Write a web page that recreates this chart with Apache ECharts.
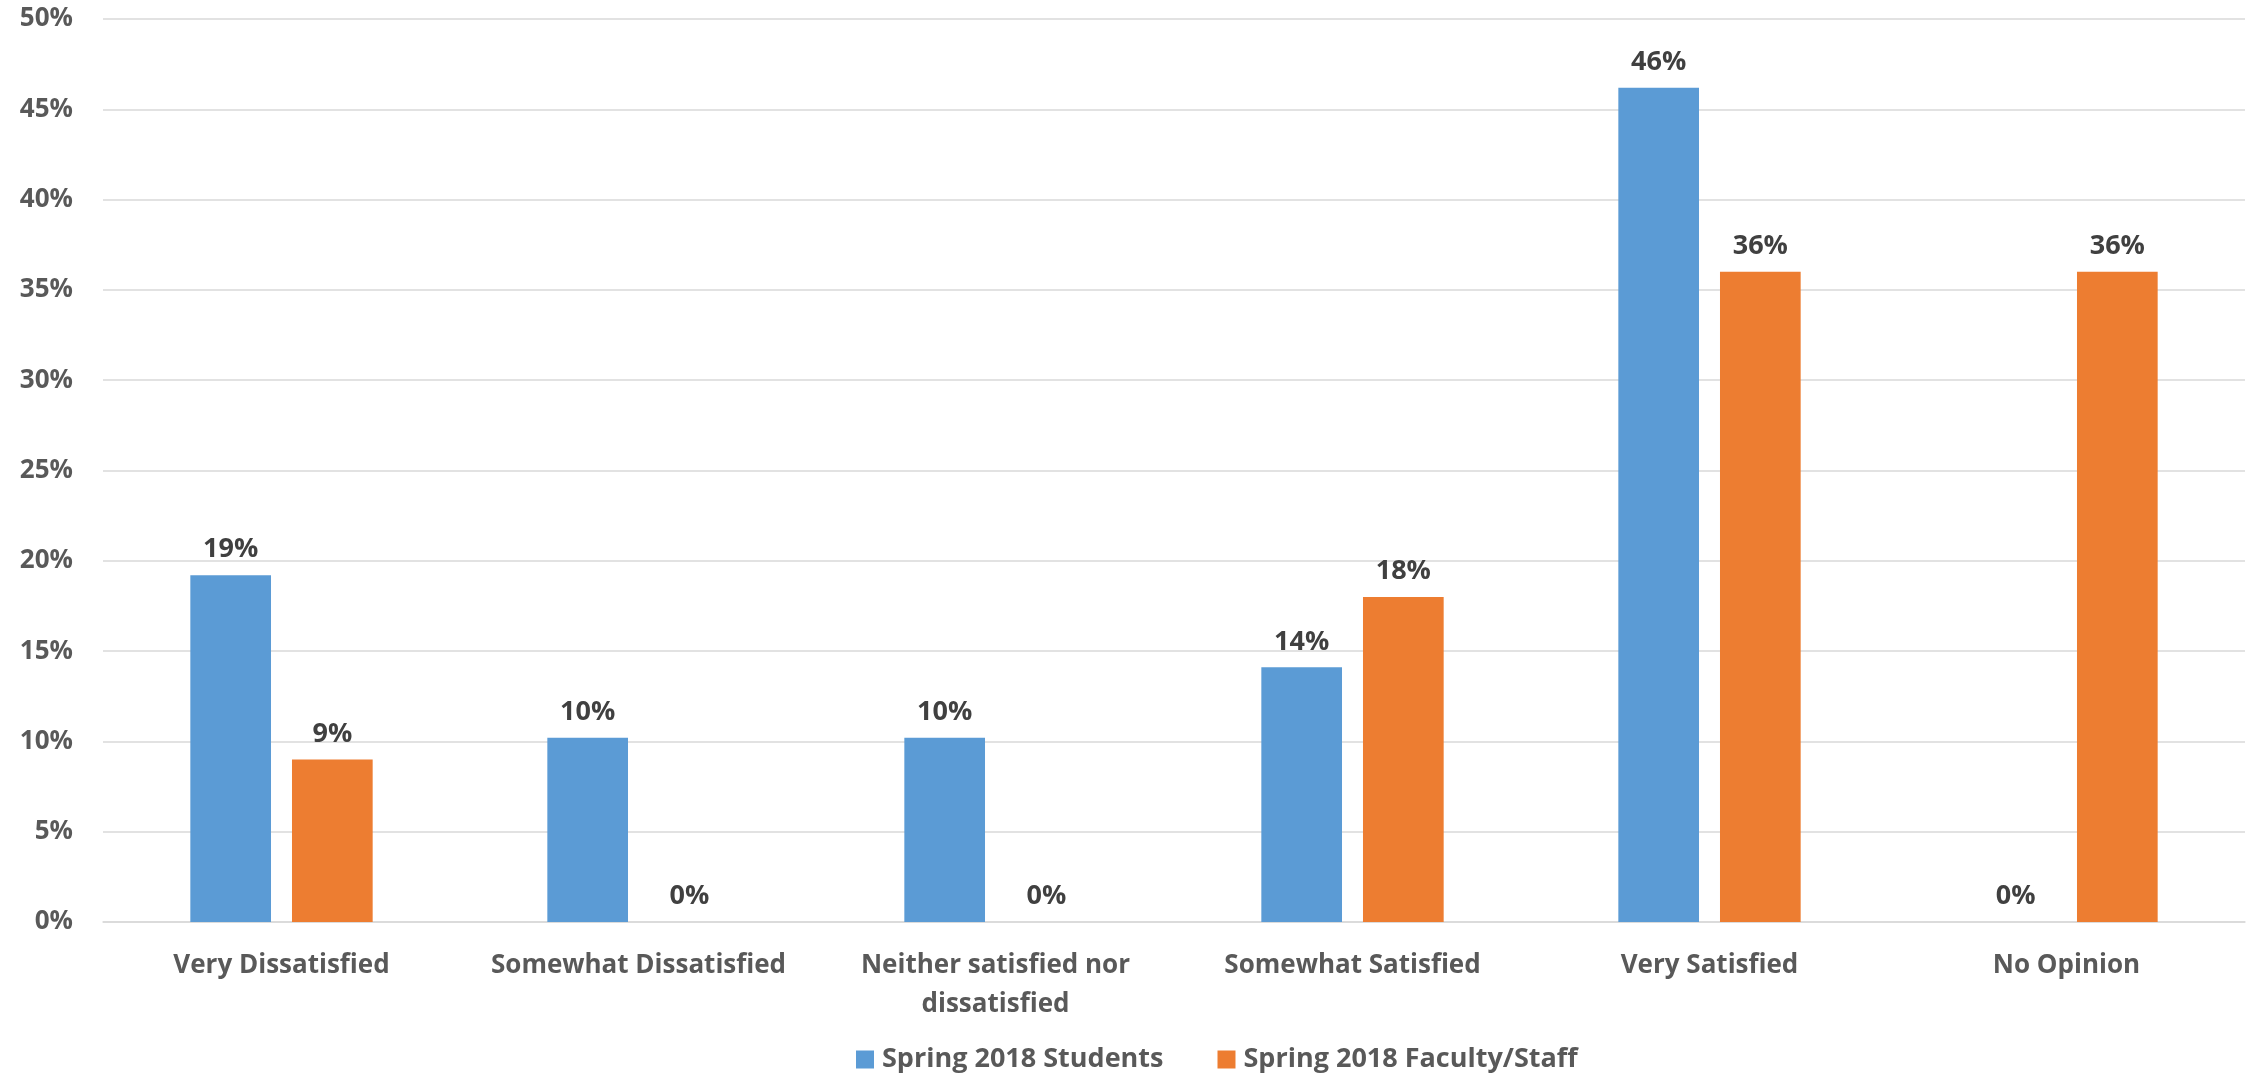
<!DOCTYPE html>
<html>
<head>
<meta charset="utf-8">
<script src="https://cdn.jsdelivr.net/npm/echarts@6/dist/echarts.min.js"></script>
<style>
html,body{margin:0;padding:0;background:#fff;}
#chart{width:2267px;height:1078px;}
</style>
</head>
<body>
<div id="chart"></div>
<script>
const categories = ['Very Dissatisfied', 'Somewhat Dissatisfied', 'Neither satisfied nor\ndissatisfied', 'Somewhat Satisfied', 'Very Satisfied', 'No Opinion'];
const seriesNames = ['Spring 2018 Students', 'Spring 2018 Faculty/Staff'];
const students = [19.2, 10.2, 10.2, 14.1, 46.2, 0];
const facultyStaff = [9.0, 0, 0, 18.0, 36.0, 36.0];
const yTicks = { min: 0, max: 50, interval: 5 };

const FONT = '"Open Sans"';
const chart = echarts.init(document.getElementById('chart'));
const labelStyle = {
  show: true,
  position: 'top',
  distance: 12,
  formatter: p => Math.round(p.value) + '%',
  fontFamily: FONT,
  fontWeight: 'bold',
  fontSize: 27,
  color: '#404040'
};
chart.setOption({
  animation: false,
  grid: { left: 103, right: 22, top: 19, bottom: 156, containLabel: false },
  legend: {
    left: 851,
    top: 1041,
    itemWidth: 18,
    itemHeight: 18,
    itemGap: 54,
    icon: 'rect',
    textStyle: { fontFamily: FONT, fontWeight: 'bold', fontSize: 27, color: '#595959', padding: [0, 0, 0, 3] },
    data: seriesNames
  },
  xAxis: {
    type: 'category',
    data: categories,
    axisLine: { show: true, lineStyle: { color: '#D9D9D9', width: 1.5 } },
    axisTick: { show: false },
    axisLabel: { fontFamily: FONT, fontWeight: 'bold', fontSize: 26, color: '#595959', margin: 24, lineHeight: 39, interval: 0 }
  },
  yAxis: {
    type: 'value',
    min: yTicks.min,
    max: yTicks.max,
    interval: yTicks.interval,
    axisLine: { show: false },
    axisTick: { show: false },
    splitLine: { lineStyle: { color: '#D9D9D9', width: 1.5 } },
    axisLabel: { formatter: v => v + '%', fontFamily: FONT, fontWeight: 'bold', fontSize: 26, color: '#595959', margin: 30 }
  },
  series: [
    { name: seriesNames[0], type: 'bar', data: students, itemStyle: { color: '#5B9BD5' }, barWidth: '22.6%', barGap: '26%', label: labelStyle },
    { name: seriesNames[1], type: 'bar', data: facultyStaff, itemStyle: { color: '#ED7D31' }, barWidth: '22.6%', barGap: '26%', label: labelStyle }
  ]
});
</script>
</body>
</html>
